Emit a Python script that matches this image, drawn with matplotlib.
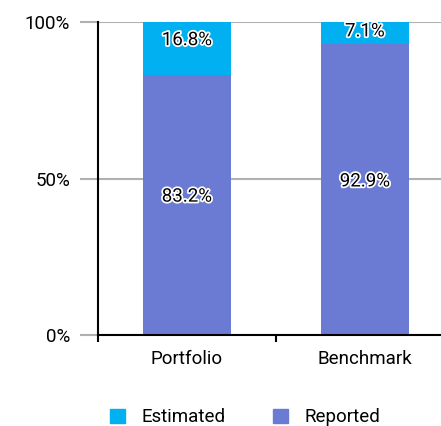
import matplotlib.pyplot as plt
import matplotlib.patheffects as pe
from matplotlib.patches import Patch
import numpy as np

plt.rcParams['font.family'] = ['Roboto', 'DejaVu Sans']

# Share of holdings by data source
categories = ['Portfolio', 'Benchmark']
reported = [83.2, 92.9]
estimated = [16.8, 7.1]

col_est = '#00b0f0'
col_rep = '#6b7bd4'
grid_col = '#b0b0b0'
fs = 13.5

fig = plt.figure(figsize=(4.41, 4.26), dpi=100)
# axes runs a little past the right edge of the figure
ax = fig.add_axes([98 / 441, 91 / 426, 356 / 441, 313 / 426])

x = np.arange(len(categories))
ax.bar(x, reported, width=0.495, color=col_rep, zorder=3)
ax.bar(x, estimated, width=0.495, bottom=reported, color=col_est, zorder=3)

stroke = [pe.withStroke(linewidth=2.5, foreground='white')]
for i in range(len(categories)):
    y_rep = reported[i] / 2 + 2.6
    y_est = min(reported[i] + estimated[i] / 2 + 2.6, 97)
    ax.text(x[i], y_rep, f'{reported[i]:.1f}%', ha='center', va='center',
            fontsize=fs, color='black', path_effects=stroke, zorder=4)
    ax.text(x[i], y_est, f'{estimated[i]:.1f}%', ha='center', va='center',
            fontsize=fs, color='black', path_effects=stroke, zorder=4)

ax.set_xlim(-0.5, 1.5)
ax.set_ylim(0, 100)

ax.set_yticks([0, 50, 100])
ax.set_yticklabels(['0%', '50%', '100%'], fontsize=fs)
ax.tick_params(axis='y', length=13, width=1.5, color=grid_col, pad=7)
ax.yaxis.grid(True, color=grid_col, linewidth=1.5, zorder=0)

ax.set_xticks([-0.5, 0.5, 1.5])
ax.set_xticklabels([])
ax.set_xticks(x, minor=True)
ax.set_xticklabels(categories, minor=True, fontsize=fs)
ax.tick_params(axis='x', which='major', length=5, width=1.5, color='black')
ax.tick_params(axis='x', which='minor', length=0, pad=11)

for side in ['top', 'right']:
    ax.spines[side].set_visible(False)
for side in ['left', 'bottom']:
    ax.spines[side].set_linewidth(1.5)
    ax.spines[side].set_zorder(5)
ax.set_axisbelow(True)

handles = [Patch(color=col_est, label='Estimated'),
           Patch(color=col_rep, label='Reported')]
fig.legend(handles=handles, loc='center', bbox_to_anchor=(0.556, 0.02),
           ncol=2, frameon=False, fontsize=fs, handlelength=0.8,
           handleheight=0.8, handletextpad=0.9, columnspacing=2.5)

fig.savefig('out.png', dpi=100)
